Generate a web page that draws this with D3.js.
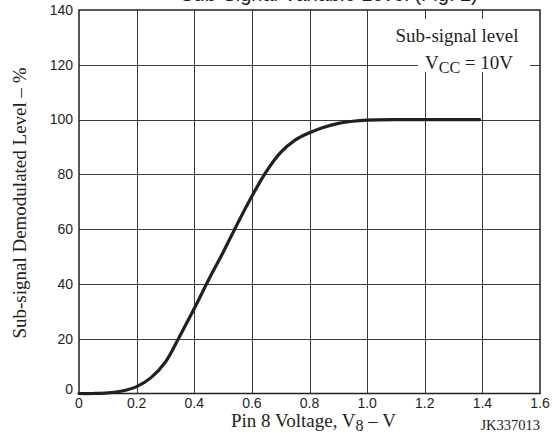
<!DOCTYPE html>
<html>
<head>
<meta charset="utf-8">
<script src="https://cdn.jsdelivr.net/npm/d3@7"></script>
<style>
  html, body { margin: 0; padding: 0; background: #fff; }
  svg { display: block; }
</style>
</head>
<body>
<svg id="chart" width="555" height="440"></svg>
<script>
// ---- data ----
const voltage = [0, 0.05, 0.1, 0.15, 0.2, 0.25, 0.3, 0.35, 0.4, 0.45, 0.5, 0.55, 0.6, 0.65, 0.7, 0.75, 0.8, 0.85, 0.9, 0.95, 1.0, 1.1, 1.2, 1.3, 1.39];
const level   = [0, 0, 0.2, 0.9, 2.5, 5.8, 11.5, 21, 31, 41.5, 51.5, 62, 72, 81, 88, 92.5, 95.2, 97.2, 98.6, 99.4, 99.8, 100, 100, 100, 100];
const xTicks = [0, 0.2, 0.4, 0.6, 0.8, 1.0, 1.2, 1.4, 1.6];
const xTickLabels = ["0", "0.2", "0.4", "0.6", "0.8", "1.0", "1.2", "1.4", "1.6"];
const yTicks = [0, 20, 40, 60, 80, 100, 120, 140];
const yTickLabels = ["0", "20", "40", "60", "80", "100", "120", "140"];

const svg = d3.select("#chart");
const x = d3.scaleLinear().domain([0, 1.6]).range([79, 540]);
const y = d3.scaleLinear().domain([0, 140]).range([393.5, 10]);

const serif = "'Liberation Serif', 'Times New Roman', serif";
const sans = "'Liberation Sans', Arial, sans-serif";

// title (clipped at top of page)
svg.append("text")
  .attr("x", 329).attr("y", 0.5)
  .attr("text-anchor", "middle")
  .attr("font-family", sans).attr("font-size", 20)
  .attr("fill", "#231f20")
  .text("Sub-Signal Variable Level (Fig. 2)");

// grid
const grid = svg.append("g").attr("stroke", "#3a3a3a").attr("stroke-width", 1);
grid.selectAll("line.v").data(xTicks.slice(1, -1)).enter().append("line")
  .attr("x1", d => Math.round(x(d)) + 0.5).attr("x2", d => Math.round(x(d)) + 0.5)
  .attr("y1", y(140)).attr("y2", y(0));
grid.selectAll("line.h").data(yTicks.slice(1, -1)).enter().append("line")
  .attr("y1", d => Math.round(y(d)) + 0.5).attr("y2", d => Math.round(y(d)) + 0.5)
  .attr("x1", x(0)).attr("x2", x(1.6));

// legend box (white, hides grid)
svg.append("rect")
  .attr("x", 418).attr("y", 19).attr("width", 112).attr("height", 53)
  .attr("fill", "#fff");
svg.append("text")
  .attr("x", 457).attr("y", 42)
  .attr("text-anchor", "middle")
  .attr("font-family", serif).attr("font-size", 19).attr("fill", "#231f20")
  .text("Sub-signal level");
const vcc = svg.append("text")
  .attr("x", 425).attr("y", 69)
  .attr("font-family", serif).attr("font-size", 19).attr("fill", "#231f20");
vcc.append("tspan").text("V");
vcc.append("tspan").attr("dy", 4).attr("font-size", 16).text("CC");
vcc.append("tspan").attr("dy", -4).text(" = 10V");

// frame
svg.append("rect")
  .attr("x", x(0)).attr("y", y(140))
  .attr("width", x(1.6) - x(0)).attr("height", y(0) - y(140))
  .attr("fill", "none").attr("stroke", "#231f20").attr("stroke-width", 1.5);

// curve
const line = d3.line()
  .x((d, i) => x(voltage[i]))
  .y(d => y(d))
  .curve(d3.curveCatmullRom.alpha(0.5));
svg.append("path")
  .datum(level)
  .attr("d", line)
  .attr("fill", "none")
  .attr("stroke", "#231f20")
  .attr("stroke-width", 3.2)
  .attr("stroke-linecap", "round");

// x tick labels
svg.selectAll("text.xt").data(xTicks).enter().append("text")
  .attr("x", d => x(d)).attr("y", 408)
  .attr("text-anchor", "middle")
  .attr("font-family", sans).attr("font-size", 14).attr("fill", "#231f20")
  .text((d, i) => xTickLabels[i]);

// y tick labels
svg.selectAll("text.yt").data(yTicks).enter().append("text")
  .attr("x", 73).attr("y", d => y(d))
  .attr("dy", d => d === 0 ? "0" : "0.35em")
  .attr("text-anchor", "end")
  .attr("font-family", sans).attr("font-size", 14).attr("fill", "#231f20")
  .text((d, i) => yTickLabels[i]);

// x axis title
const xt = svg.append("text")
  .attr("x", 231).attr("y", 427)
  .attr("font-family", serif).attr("font-size", 19).attr("fill", "#231f20");
xt.append("tspan").text("Pin 8 Voltage, V");
xt.append("tspan").attr("dy", 4).attr("font-size", 16).text("8");
xt.append("tspan").attr("dy", -4).text(" \u2013 V");

// y axis title
svg.append("text")
  .attr("transform", "translate(26,203) rotate(-90)")
  .attr("text-anchor", "middle")
  .attr("font-family", serif).attr("font-size", 19).attr("fill", "#231f20")
  .text("Sub-signal Demodulated Level \u2013 %");

// code
svg.append("text")
  .attr("x", 540).attr("y", 430)
  .attr("text-anchor", "end")
  .attr("font-family", serif).attr("font-size", 14.5).attr("fill", "#231f20")
  .text("JK337013");
</script>
</body>
</html>
